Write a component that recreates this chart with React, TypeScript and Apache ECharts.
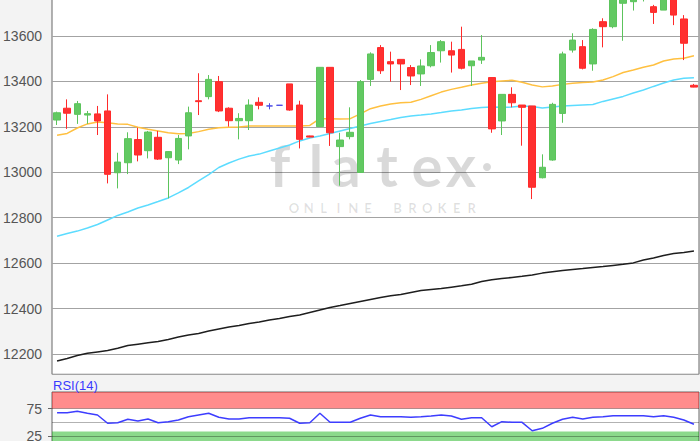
import React, { useEffect, useRef } from "react";
import * as echarts from "echarts";

// OHLC per session
const open = [13230, 13282, 13255, 13252, 13257, 13270, 12998, 13042, 13144, 13095, 13154, 13064, 13054, 13160, 13315, 13333, 13399, 13282, 13227, 13227, 13308, 13292, 13295, 13389, 13296, 13160, 13201, 13462, 13113, 13157, 12999, 13409, 13549, 13487, 13497, 13461, 13433, 13469, 13535, 13535, 13541, 13469, 13494, 13417, 13226, 13343, 13296, 13292, 12976, 13054, 13259, 13538, 13553, 13477, 13663, 13641, 13744, 13751, 13780, 13729, 13714, 13790, 13675, 13383];
const close = [13262, 13260, 13302, 13258, 13226, 12991, 13045, 13148, 13076, 13177, 13058, 13091, 13149, 13262, 13311, 13409, 13270, 13227, 13237, 13296, 13295, 13292, 13295, 13274, 13145, 13155, 13462, 13174, 13142, 13176, 13399, 13521, 13447, 13477, 13477, 13424, 13468, 13527, 13575, 13516, 13458, 13490, 13506, 13191, 13343, 13306, 13286, 12934, 13022, 13299, 13521, 13582, 13458, 13629, 13641, 13790, 13790, 13800, 13800, 13704, 13790, 13692, 13568, 13375];
const low = [13208, 13191, 13213, 13213, 13164, 12951, 12929, 12992, 13048, 13061, 13054, 12885, 13036, 13101, 13252, 13321, 13265, 13201, 13145, 13186, 13277, 13277, 13295, 13271, 13105, 13154, 13201, 13116, 12941, 13145, 12999, 13380, 13433, 13399, 13362, 13384, 13380, 13462, 13483, 13439, 13453, 13380, 13477, 13174, 13164, 13286, 13117, 12882, 12973, 13051, 13218, 13527, 13453, 13447, 13550, 13634, 13579, 13712, 13752, 13653, 13714, 13648, 13494, 13374];
const high = [13267, 13321, 13314, 13270, 13292, 13343, 13086, 13176, 13196, 13182, 13182, 13093, 13164, 13289, 13436, 13428, 13424, 13286, 13260, 13321, 13330, 13304, 13295, 13389, 13315, 13161, 13462, 13462, 13174, 13286, 13406, 13528, 13560, 13531, 13497, 13472, 13497, 13560, 13582, 13575, 13641, 13490, 13604, 13417, 13343, 13374, 13296, 13292, 13079, 13306, 13531, 13612, 13582, 13634, 13678, 13810, 13820, 13830, 13830, 13737, 13810, 13820, 13692, 13389];

// moving averages
const maShort = [13163, 13171, 13195, 13213, 13221, 13218, 13213, 13211, 13198, 13189, 13182, 13174, 13170, 13171, 13179, 13189, 13196, 13198, 13199, 13204, 13204, 13204, 13204, 13204, 13204, 13206, 13236, 13236, 13235, 13236, 13257, 13280, 13292, 13301, 13306, 13308, 13321, 13337, 13353, 13365, 13374, 13384, 13392, 13399, 13402, 13405, 13396, 13384, 13376, 13380, 13387, 13392, 13395, 13397, 13406, 13421, 13439, 13450, 13462, 13472, 13490, 13499, 13502, 13513];
const maMid = [12718, 12730, 12741, 12755, 12770, 12790, 12810, 12825, 12843, 12856, 12871, 12887, 12909, 12933, 12962, 12990, 13021, 13041, 13058, 13072, 13080, 13094, 13107, 13120, 13138, 13151, 13160, 13171, 13182, 13193, 13204, 13215, 13224, 13232, 13241, 13248, 13252, 13257, 13263, 13270, 13274, 13281, 13285, 13287, 13286, 13287, 13292, 13290, 13283, 13287, 13292, 13294, 13296, 13298, 13312, 13323, 13334, 13349, 13362, 13378, 13393, 13406, 13414, 13416];
const maLong = [12169, 12180, 12193, 12203, 12209, 12215, 12225, 12237, 12243, 12249, 12255, 12264, 12275, 12284, 12290, 12301, 12310, 12319, 12325, 12334, 12341, 12350, 12356, 12365, 12372, 12383, 12394, 12405, 12413, 12422, 12431, 12440, 12449, 12456, 12462, 12471, 12479, 12484, 12488, 12494, 12500, 12507, 12519, 12527, 12532, 12537, 12542, 12548, 12556, 12562, 12567, 12572, 12576, 12581, 12585, 12590, 12595, 12601, 12614, 12623, 12634, 12642, 12647, 12653];

// RSI(14)
const rsi = [67.4, 67.4, 69.9, 66.3, 63.2, 48.1, 49.2, 55.4, 52.3, 55.9, 49.2, 51.0, 54.1, 60.1, 63.2, 66.3, 59.0, 55.9, 55.9, 58.3, 58.3, 58.3, 58.3, 57.2, 48.1, 49.2, 66.3, 49.9, 49.9, 49.9, 57.2, 63.2, 60.1, 60.1, 60.1, 59.0, 60.1, 61.4, 63.2, 61.4, 55.4, 58.3, 58.3, 41.9, 51.0, 49.9, 49.9, 34.6, 39.0, 48.1, 55.4, 59.0, 55.9, 59.0, 60.1, 61.9, 61.9, 61.9, 61.9, 60.1, 61.9, 59.0, 54.1, 46.3];
const rsiTicks = [25, 75];
const rsiLevels = [25, 50, 75];
const rsiOverbought = [75, 105];
const rsiOversold = [-5, 33];

const sessions = open.map((_, i) => String(i + 1));
const candles = open.map((o, i) => [o, close[i], low[i], high[i]]);

const wmLetters = ["f", "l", "a", "t", "e", "x"];
const wmX = [280, 316, 346, 387, 427, 461];
const subText = "ONLINE BROKER";

export default function App() {
  const ref = useRef<HTMLDivElement>(null);
  useEffect(() => {
    const chart = echarts.init(ref.current as HTMLDivElement, null, { renderer: "svg" });
    const labelFont = "'Liberation Sans', Arial, sans-serif";
    const graphics: any[] = [];
    wmLetters.forEach((t, i) => {
      graphics.push({
        type: "text",
        x: wmX[i],
        y: 164,
        z: 1,
        silent: true,
        style: { text: t, fill: "rgba(0,0,0,0.15)", font: "bold 58px Lato", lineHeight: 40, align: "center", verticalAlign: "middle" },
      });
    });
    graphics.push({ type: "circle", z: 1, silent: true, shape: { cx: 487, cy: 167, r: 4 }, style: { fill: "rgba(0,0,0,0.15)" } });
    subText.split("").forEach((ch, i) => {
      if (ch === " ") return;
      graphics.push({
        type: "text",
        x: 294 + i * 14.8,
        y: 208,
        z: 1,
        silent: true,
        style: { text: ch, fill: "rgba(0,0,0,0.12)", font: "bold 13px Lato", lineHeight: 12, align: "center", verticalAlign: "middle" },
      });
    });
    graphics.push({
      type: "text",
      x: 53,
      y: 385.5,
      z: 10,
      style: { text: "RSI(14)", fill: "#3a3aff", font: `13px ${labelFont}`, align: "left", verticalAlign: "middle" },
    });

    const option: any = {
      animation: false,
      backgroundColor: "#f3f3f3",
      graphic: { elements: graphics },
      grid: [
        { left: 52, right: 1, top: -5, height: 379.3, outerBoundsMode: "none", containLabel: false, show: true, backgroundColor: "#ffffff", borderColor: "#666", borderWidth: 1 },
        { left: 52, right: 1, top: 392, height: 60.5, outerBoundsMode: "none", containLabel: false, show: true, backgroundColor: "#ffffff", borderColor: "#666", borderWidth: 1 },
      ],
      xAxis: [0, 1].map((g) => ({
        type: "category",
        gridIndex: g,
        data: sessions,
        boundaryGap: true,
        axisLine: { show: false },
        axisTick: { show: false },
        axisLabel: { show: false },
        splitLine: { show: false },
      })),
      yAxis: [
        {
          type: "value",
          gridIndex: 0,
          min: 12110.5,
          max: 13780.5,
          splitNumber: 8,
          axisLine: { show: false },
          axisTick: { show: false },
          axisLabel: {
            color: "#555",
            fontSize: 14,
            fontFamily: labelFont,
            margin: 10,
            showMinLabel: false,
            showMaxLabel: false,
            formatter: (v: number) => (Math.abs(v % 200) < 0.001 ? String(v) : ""),
          },
          splitLine: { lineStyle: { color: "#a3a3a3", width: 1 } },
        },
        {
          type: "value",
          gridIndex: 1,
          min: -5,
          max: 105,
          axisLine: { show: false },
          axisTick: { show: true, inside: false, length: 4, customValues: rsiTicks, lineStyle: { color: "#666" } },
          axisLabel: { color: "#555", fontSize: 14, fontFamily: labelFont, margin: 10, customValues: rsiTicks },
          splitLine: { show: false },
        },
      ],
      series: [
        {
          type: "line",
          xAxisIndex: 0,
          yAxisIndex: 0,
          data: maLong,
          symbol: "none",
          z: 2,
          lineStyle: { color: "#1e1e1e", width: 1.5 },
        },
        {
          type: "line",
          xAxisIndex: 0,
          yAxisIndex: 0,
          data: maMid,
          symbol: "none",
          z: 2,
          lineStyle: { color: "#5cdcff", width: 1.5 },
        },
        {
          type: "line",
          xAxisIndex: 0,
          yAxisIndex: 0,
          data: maShort,
          symbol: "none",
          z: 2,
          lineStyle: { color: "#ffc040", width: 1.5 },
        },
        {
          type: "candlestick",
          xAxisIndex: 0,
          yAxisIndex: 0,
          data: candles,
          barWidth: 7,
          z: 5,
          clip: true,
          itemStyle: {
            color: "#62c962",
            color0: "#ff3030",
            borderColor: "#5cc45c",
            borderColor0: "#ff2a2a",
            borderColorDoji: "#4a4ae6",
            borderWidth: 1,
          },
        },
        {
          type: "line",
          xAxisIndex: 1,
          yAxisIndex: 1,
          data: rsi,
          symbol: "none",
          z: 5,
          lineStyle: { color: "#3d3dff", width: 1.5 },
          markArea: {
            silent: true,
            itemStyle: { opacity: 1 },
            data: [
              [{ yAxis: rsiOverbought[0], itemStyle: { color: "rgba(255,0,0,0.45)" } }, { yAxis: rsiOverbought[1] }],
              [{ yAxis: rsiOversold[0], itemStyle: { color: "rgba(0,170,0,0.45)" } }, { yAxis: rsiOversold[1] }],
            ],
          },
          markLine: {
            silent: true,
            symbol: ["none", "none"],
            label: { show: false },
            lineStyle: { color: "rgba(0,0,0,0.3)", type: "solid", width: 1 },
            data: rsiLevels.map((v) => ({ yAxis: v })),
          },
        },
      ],
    };
    chart.setOption(option);
    return () => chart.dispose();
  }, []);
  return (
    <div style={{ position: "fixed", left: 0, top: 0, width: 700, height: 441, background: "#f3f3f3" }}>
      <div ref={ref} style={{ width: 700, height: 441 }} />
    </div>
  );
}
